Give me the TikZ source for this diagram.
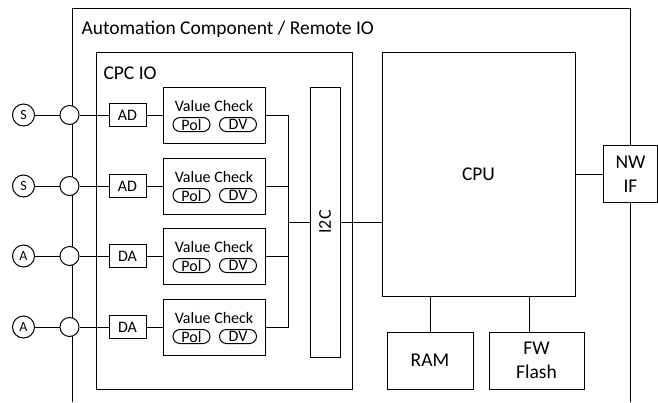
\documentclass[tikz,border=0pt]{standalone}
\usepackage{fontspec}
\setmainfont{Carlito}
\usepackage{tikz}

\newcommand{\figbig}{\fontsize{19.5}{23.5}\selectfont}
\newcommand{\figmid}{\fontsize{16}{19}\selectfont}
\newcommand{\figsmall}{\fontsize{14}{16}\selectfont}

\tikzset{
  blk/.style={draw=black, line width=1pt, inner sep=0pt, align=center, font=\figbig},
  sensor/.style={draw=black, circle, minimum width=22pt, minimum height=22pt, inner sep=0pt, fill=white, font=\figsmall},
  port/.style={draw=black, circle, minimum width=19pt, minimum height=19pt, inner sep=0pt, fill=white},
  conv/.style={draw=black, minimum width=37pt, minimum height=23pt, inner sep=0pt, font=\figmid},
  chk/.style={draw=black, minimum width=102pt, minimum height=56pt, inner sep=0pt},
  pill/.style={draw=black, rounded corners=7pt, minimum width=37pt, minimum height=14pt, inner sep=0pt, font=\figmid},
  txt/.style={inner sep=0pt, font=\figmid}
}

\begin{document}
\begin{tikzpicture}[x=1pt,y=-1pt,line width=1pt]
\useasboundingbox (0,0) rectangle (658,402);
\node [blk, minimum width=54, minimum height=57] (nwif) at (630.5,174) {NW\\IF};
% outer frame, open at the bottom
\draw [black] (72,402) |- (630.5,8) -- (nwif.north);
\draw [black] (nwif.south) -- (630.5,402);
\node [anchor=west, inner sep=0pt, font=\figbig] (title) at (81,29.5) {Automation Component / Remote IO};
\node [blk, minimum width=256, minimum height=337] (cpcio) at (224,220.5) {};
\node [anchor=west, inner sep=0pt, font=\figbig] (cpclabel) at (103,73) {CPC IO};
\node [blk, minimum width=30, minimum height=270, font=\fontsize{18}{21}\selectfont] (i2c) at (325,222) {\rotatebox{90}{I2C}};
\node [blk, minimum width=193, minimum height=244] (cpu) at (478.5,174) {CPU};
\node [blk, minimum width=86, minimum height=57] (ram) at (430,360.5) {RAM};
\node [blk, minimum width=95, minimum height=57] (flash) at (536.5,360.5) {FW\\Flash};
\coordinate (bus) at (288,222);
% row 1
\node [sensor] (s1) at (23.5,115) {S};
\node [port] (p1) at (69.5,115) {};
\node [conv] (ad1) at (127.5,115) {AD};
\node [chk] (vc1) at (214,115) {};
\node [txt] (vt1) at (214,106) {Value Check};
\node [pill] (pol1) at (191.5,124.5) {Pol};
\node [pill] (dv1) at (238,124.5) {DV};
\draw (s1) -- (p1);
\draw (p1) -- (ad1);
\draw (ad1) -- (vc1);
\draw (vc1.east) -| (bus);
% row 2
\node [sensor] (s2) at (23.5,186) {S};
\node [port] (p2) at (69.5,186) {};
\node [conv] (ad2) at (127.5,186) {AD};
\node [chk] (vc2) at (214,186) {};
\node [txt] (vt2) at (214,177) {Value Check};
\node [pill] (pol2) at (191.5,195.5) {Pol};
\node [pill] (dv2) at (238,195.5) {DV};
\draw (s2) -- (p2);
\draw (p2) -- (ad2);
\draw (ad2) -- (vc2);
\draw (vc2.east) -| (bus);
% row 3
\node [sensor] (a3) at (23.5,256) {A};
\node [port] (p3) at (69.5,256) {};
\node [conv] (da3) at (127.5,256) {DA};
\node [chk] (vc3) at (214,256) {};
\node [txt] (vt3) at (214,247) {Value Check};
\node [pill] (pol3) at (191.5,265.5) {Pol};
\node [pill] (dv3) at (238,265.5) {DV};
\draw (a3) -- (p3);
\draw (p3) -- (da3);
\draw (da3) -- (vc3);
\draw (vc3.east) -| (bus);
% row 4
\node [sensor] (a4) at (23.5,327) {A};
\node [port] (p4) at (69.5,327) {};
\node [conv] (da4) at (127.5,327) {DA};
\node [chk] (vc4) at (214,327) {};
\node [txt] (vt4) at (214,318) {Value Check};
\node [pill] (pol4) at (191.5,336.5) {Pol};
\node [pill] (dv4) at (238,336.5) {DV};
\draw (a4) -- (p4);
\draw (p4) -- (da4);
\draw (da4) -- (vc4);
\draw (vc4.east) -| (bus);
% bus and cpu links
\draw (bus) -- (i2c);
\draw (i2c) -- (i2c -| cpu.west);
\draw (cpu.east) -- (nwif.west);
\draw (ram.north) -- (ram.north |- cpu.south);
\draw ([xshift=-7.5pt]flash.north) -- ++(0,-36);
\end{tikzpicture}
\end{document}
